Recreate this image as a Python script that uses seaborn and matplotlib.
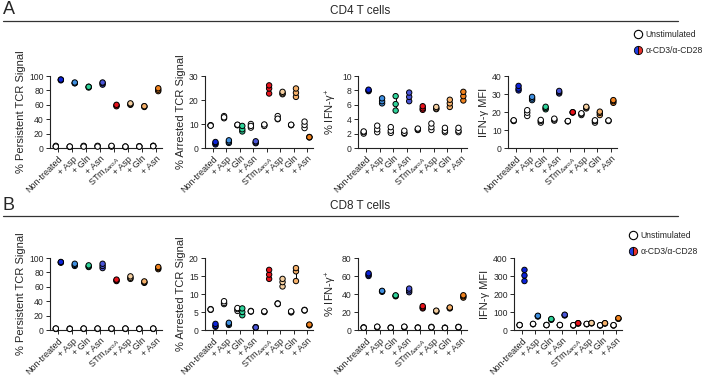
import numpy as np
import pandas as pd
import seaborn as sns
import matplotlib.pyplot as plt
from matplotlib.lines import Line2D

sns.set_style('ticks')
plt.rcParams['font.family'] = ['Liberation Sans', 'DejaVu Sans']
plt.rcParams['mathtext.fontset'] = 'custom'
plt.rcParams['mathtext.rm'] = 'Liberation Sans'
plt.rcParams['mathtext.it'] = 'Liberation Sans:italic'

# categories / tick labels
cats = ['Non-treated', '+ Asp', '+ Gln', '+ Asn',
        r'STm$_{\Delta \mathit{aroA}}$', '+ Asp', '+ Gln', '+ Asn']
stim_colors = ['#0b22d9', '#3f8fe0', '#2fd39a', '#4a55d8',
               '#e8121b', '#f5cfa0', '#f5b06a', '#f0821e']

# CD4 T cells
cd4_persist_unstim = [[2, 3, 2], [1.5, 2, 2], [2.5, 3, 2], [2.5, 3, 2], [2.5, 2, 3], [1.5, 2, 2], [2, 2.5, 2], [3, 3, 2.5]]
cd4_persist_stim = [[95, 94, 95], [90, 90, 91], [85, 84, 85], [88, 90, 91], [59, 58, 60], [60, 61, 62], [57, 58, 58], [79, 81, 83]]
cd4_arrest_unstim = [[9.4, 9.5, 9.3], [12.4, 13.3, 12.8], [9.6, 9.5, 9.7], [8.5, 10, 9.2], [9.6, 9.2, 9.8], [12, 13.3, 12.2], [9.6, 9.5, 9.7], [8.3, 9.6, 11]]
cd4_arrest_stim = [[1.5, 2.0, 2.5], [2.1, 2.6, 3.2], [6.9, 7.8, 9.2], [2.0, 2.3, 2.8], [22.7, 24.8, 26.1], [22.4, 22.8, 23.4], [21.3, 23, 24.8], [4.4, 4.6, 4.5]]
cd4_ifng_unstim = [[2.0, 2.2, 2.3], [2.2, 2.6, 3.1], [2.1, 2.4, 2.9], [2.0, 2.1, 2.4], [2.5, 2.6, 2.7], [2.5, 2.9, 3.4], [2.2, 2.4, 2.8], [2.2, 2.4, 2.8]]
cd4_ifng_stim = [[7.9, 8.0, 8.1], [6.2, 6.5, 6.9], [5.2, 6.1, 7.2], [6.5, 7.1, 7.7], [5.3, 5.5, 5.8], [5.4, 5.5, 5.7], [5.7, 6.2, 6.7], [6.6, 7.2, 7.8]]
cd4_mfi_unstim = [[15.0, 15.2, 15.4], [17.8, 19.6, 21], [14.1, 15.0, 15.6], [15.2, 15.8, 16.3], [14.9, 14.8, 15.0], [18.3, 19.0, 19.3], [14.1, 15.0, 15.4], [15.2, 15.0, 15.3]]
cd4_mfi_stim = [[32, 33, 34.5], [26.6, 27.5, 28.4], [21.5, 22.2, 22.9], [30.3, 31, 31.7], [19.7, 19.8, 19.9], [22, 22.5, 22.9], [18.3, 19.5, 20.2], [25.1, 26, 26.6]]

# CD8 T cells
cd8_persist_unstim = [[1.5, 2, 2], [1.5, 2, 1.5], [1.5, 2, 2], [1.5, 2, 2], [1.5, 2, 2], [1.5, 2, 2], [1.5, 2, 1.5], [1.5, 2, 2]]
cd8_persist_stim = [[93.5, 94, 94.5], [89, 90.5, 92], [87.5, 88.5, 89.8], [86, 89, 92], [68, 69, 70], [71, 72.5, 74.5], [65.5, 66.5, 67.5], [84.5, 86, 87.5]]
cd8_arrest_unstim = [[5.6, 5.8, 5.7], [7.2, 7.5, 8.0], [5.3, 5.8, 6.1], [5.1, 5.3, 5.2], [5.0, 5.1, 5.2], [7.2, 7.4, 7.3], [4.9, 5.0, 5.2], [5.4, 5.6, 5.5]]
cd8_arrest_stim = [[0.9, 1.2, 1.7], [1.4, 1.7, 2.0], [4.1, 5.0, 6.0], [0.7, 0.8, 0.7], [14.2, 15.4, 16.7], [12.1, 13.3, 14.2], [13.6, 16.3, 17.2], [1.3, 1.4, 1.5]]
cd8_ifng_unstim = [[2.5, 3, 2.5], [3.5, 3, 3.7], [2.5, 2.8, 2.5], [3, 3.5, 3.7], [2.5, 2.8, 2.5], [3, 3.5, 3], [2.5, 2.5, 2.2], [3, 3.5, 3.2]]
cd8_ifng_stim = [[60, 61.5, 63], [42.5, 43, 43.5], [37.5, 38, 38.5], [42, 44, 46], [24, 25, 26.5], [20.5, 21, 21.5], [24, 24.6, 25], [36, 37.5, 38.6]]
cd8_mfi_unstim = [[27, 28, 27.5], [32, 33, 34], [27, 28, 27.5], [27, 27.5, 28], [25, 26, 27], [32, 33, 34], [25, 26, 27], [25, 26, 27]]
cd8_mfi_stim = [[272, 303, 334], [75, 77, 79], [57, 59, 61], [81, 83, 85], [36, 37, 38], [37, 38, 39], [36, 37, 38], [62, 64, 66]]

panels = [
    # (unstim, stim, ylabel, ymax, step, (axis left px, axis bottom px, width px))
    (cd4_persist_unstim, cd4_persist_stim, '% Persistent TCR Signal', 100, 20, (50, 148, 112)),
    (cd4_arrest_unstim, cd4_arrest_stim, '% Arrested TCR Signal', 30, 10, (205, 148, 108)),
    (cd4_ifng_unstim, cd4_ifng_stim, '% IFN-γ$^{+}$', 10, 2, (358, 148, 109)),
    (cd4_mfi_unstim, cd4_mfi_stim, 'IFN-γ MFI', 40, 10, (508, 148, 109)),
    (cd8_persist_unstim, cd8_persist_stim, '% Persistent TCR Signal', 100, 20, (50, 330, 112)),
    (cd8_arrest_unstim, cd8_arrest_stim, '% Arrested TCR Signal', 20, 5, (205, 330, 108)),
    (cd8_ifng_unstim, cd8_ifng_stim, '% IFN-γ$^{+}$', 80, 20, (358, 330, 109)),
    (cd8_mfi_unstim, cd8_mfi_stim, 'IFN-γ MFI', 400, 100, (514, 330, 108)),
]

W, H = 705, 375
fig = plt.figure(figsize=(W / 100, H / 100), dpi=100)

palette = {'unstim': 'white'}
palette.update({f's{i}': c for i, c in enumerate(stim_colors)})
off = 0.18

for unstim, stim, ylab, ymax, step, (x0, y0, w) in panels:
    ax = fig.add_axes([x0 / W, (H - y0) / H, w / W, 72 / H])
    rows = []
    for i in range(len(cats)):
        for v in unstim[i]:
            rows.append({'pos': i - off, 'value': v, 'key': 'unstim'})
        for v in stim[i]:
            rows.append({'pos': i + off, 'value': v, 'key': f's{i}'})
    df = pd.DataFrame(rows)
    # SD bars behind the points
    stats = df.groupby(['pos', 'key'])['value'].agg(['mean', 'std']).reset_index()
    ax.vlines(stats['pos'], stats['mean'] - stats['std'], stats['mean'] + stats['std'],
              color='black', lw=0.7, zorder=2)
    sns.scatterplot(data=df, x='pos', y='value', hue='key', palette=palette, ax=ax,
                    s=15, edgecolor='black', linewidth=0.7, legend=False,
                    clip_on=False, zorder=3)
    ax.set_xlim(-0.6, 7.45)
    ax.set_ylim(0, ymax)
    ax.set_yticks(np.arange(0, ymax + step / 2, step))
    ax.set_xticks(range(len(cats)))
    ax.set_xticklabels(cats, rotation=45, ha='right', rotation_mode='anchor', fontsize=6.5)
    ax.tick_params(axis='y', labelsize=6.2, length=3, width=0.7, pad=1.5)
    ax.tick_params(axis='x', length=3, width=0.7, pad=1.5)
    ax.set_xlabel('')
    ax.set_ylabel(ylab, fontsize=8, labelpad=2)
    sns.despine(ax=ax)
    for sp in ['left', 'bottom']:
        ax.spines[sp].set_linewidth(0.8)
        ax.spines[sp].set_color('#222222')

# section headers
for letter, title, ytxt, yline in [('A', 'CD4 T cells', 11, 21), ('B', 'CD8 T cells', 206, 216)]:
    fig.text(3 / W, 1 - (ytxt - 1) / H, letter, fontsize=13, va='center', ha='left')
    fig.text(360 / W, 1 - ytxt / H, title, fontsize=8.5, va='center', ha='center')
    fig.add_artist(Line2D([3 / W, 678 / W], [1 - yline / H] * 2,
                          transform=fig.transFigure, color='#333333', lw=0.9))

# legends
for xleft, ytop in [(634, 30), (629, 231)]:
    handles = [
        Line2D([], [], marker='o', ls='', markersize=6, markerfacecolor='white',
               markeredgecolor='black', markeredgewidth=0.8),
        Line2D([], [], marker='o', ls='', markersize=6, fillstyle='left',
               markerfacecolor='#1f3ee0', markerfacecoloralt='#e8302b',
               markeredgecolor='black', markeredgewidth=0.6),
    ]
    fig.legend(handles, ['Unstimulated', 'α-CD3/α-CD28'], loc='upper left',
               bbox_to_anchor=(xleft / W, 1 - ytop / H), frameon=False, fontsize=6.2,
               handletextpad=0.3, handlelength=1.0, labelspacing=0.85,
               borderaxespad=0, borderpad=0)

plt.savefig('out.png', dpi=100)
